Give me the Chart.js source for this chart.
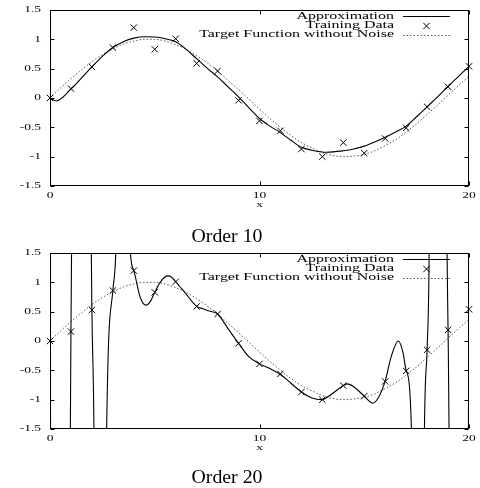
<!DOCTYPE html>
<html><head><meta charset="utf-8">
<script src="https://cdn.jsdelivr.net/npm/chart.js@4/dist/chart.umd.min.js"></script>
<style>
html,body{margin:0;padding:0;background:#fff;width:480px;height:488px;overflow:hidden;}
.wrap{position:absolute;left:0;width:480px;height:244px;}
</style></head><body>
<div class="wrap" style="top:0"><canvas id="c1" width="480" height="244"></canvas></div>
<div class="wrap" style="top:244px"><canvas id="c2" width="480" height="244"></canvas></div>
<script>
// ---- data ----
const trainX = [0,1,2,3,4,5,6,7,8,9,10,11,12,13,14,15,16,17,18,19,20];
const trainY = [0.0,0.16,0.53,0.86,1.2,0.83,1.01,0.59,0.46,-0.04,-0.39,-0.56,-0.87,-1.0,-0.76,-0.94,-0.69,-0.51,-0.15,0.19,0.54];

const targetX = [0,0.5,1,1.5,2,2.5,3,3.5,4,4.5,5,5.5,6,6.5,7,7.5,8,8.5,9,9.5,10,10.5,11,11.5,12,12.5,13,13.5,14,14.5,15,15.5,16,16.5,17,17.5,18,18.5,19,19.5,20];
const targetY = [0,0.17,0.33,0.48,0.62,0.74,0.84,0.92,0.97,1.0,1.0,0.97,0.91,0.83,0.72,0.6,0.46,0.3,0.14,-0.02,-0.19,-0.35,-0.5,-0.64,-0.76,-0.85,-0.93,-0.98,-1.0,-0.99,-0.96,-0.9,-0.81,-0.71,-0.58,-0.44,-0.28,-0.12,0.05,0.21,0.37];

const order10X = [0,0.3,1,1.5,2,2.5,3,3.5,4,4.5,5,5.5,6,6.5,7,7.5,8,8.5,9,9.5,10,10.5,11,11.5,12,12.5,13.2,14,14.5,15,15.5,16,16.5,17,17.5,18,18.5,19,19.5,20];
const order10Y = [0,-0.05,0.15,0.34,0.53,0.71,0.86,0.96,1.02,1.045,1.04,1.01,0.96,0.83,0.67,0.51,0.36,0.19,0.02,-0.17,-0.35,-0.48,-0.59,-0.72,-0.84,-0.89,-0.925,-0.9,-0.87,-0.82,-0.75,-0.67,-0.58,-0.48,-0.32,-0.15,0.02,0.2,0.37,0.54];

const order20X = [0,0.03,0.5,0.97,1,1.03,1.5,1.97,2,2.1,2.4,2.7,3,3.15,3.5,3.82,4,4.3,4.58,4.8,5,5.3,5.62,5.8,6,6.5,7,7.3,7.6,8,8.5,9,9.5,10,10.5,11,11.5,12,12.5,12.97,13.5,14,14.2,14.5,15,15.4,15.7,16,16.3,16.63,16.85,17,17.26,17.55,17.87,18,18.1,18.5,18.95,19,19.05,19.5,19.97,20];
const order20Y = [0,-1.6,-40,-1.6,0.17,1.6,40,1.6,0.53,-1.6,-20,-1.6,0.86,1.6,8,1.6,1.2,0.75,0.61,0.68,0.83,1.02,1.11,1.09,1.01,0.8,0.59,0.55,0.51,0.46,0.21,-0.04,-0.27,-0.39,-0.47,-0.57,-0.72,-0.87,-0.97,-1.0,-0.89,-0.76,-0.73,-0.78,-0.94,-1.06,-0.95,-0.68,-0.25,0.0,-0.2,-0.5,-1.6,-20,-1.6,-0.14,1.6,30,1.6,0.2,-1.6,-40,-1.6,0.53];

const xTicks = [0,10,20];
const yTicks = [-1.5,-1,-0.5,0,0.5,1,1.5];
const xTickLabels = ['0','10','20'];
const yTickLabels = ['-1.5','-1','-0.5','0','0.5','1','1.5'];
const legendLabels = ['Approximation','Training Data','Target Function without Noise'];
const xTitle = 'x';
const chartTitles = ['Order 10','Order 20'];

// ---- helpers ----
const zip = (xs, ys) => xs.map((x, i) => ({x: x, y: ys[i]}));
function sText(ctx, txt, x, y, align, font, sx, baseline) {
  ctx.save();
  ctx.font = font; ctx.textAlign = align; ctx.textBaseline = baseline || 'middle';
  ctx.fillStyle = '#000';
  ctx.translate(x, y); ctx.scale(sx, 1);
  ctx.fillText(txt, 0, 0);
  ctx.restore();
}

function decoPlugin(title, titleBase) {
  return {
    id: 'deco',
    afterDraw(chart) {
      const ctx = chart.ctx, a = chart.chartArea;
      const xs = chart.scales.x, ys = chart.scales.y;
      ctx.save();
      ctx.strokeStyle = '#000'; ctx.lineWidth = 1; ctx.setLineDash([]);
      const L = Math.round(a.left) + 0.5, R = Math.round(a.right) - 0.5;
      const T = Math.round(a.top) + 0.5, B = Math.round(a.bottom) - 0.5;
      ctx.strokeRect(L, T, R - L, B - T);
      ctx.beginPath();
      ys.ticks.forEach(t => {
        const p = Math.round(ys.getPixelForValue(t.value)) + 0.5;
        ctx.moveTo(L, p); ctx.lineTo(L + 4, p);
        ctx.moveTo(R, p); ctx.lineTo(R - 4, p);
      });
      xs.ticks.forEach(t => {
        const p = Math.round(xs.getPixelForValue(t.value)) + 0.5;
        ctx.moveTo(p, B); ctx.lineTo(p, B - 4);
        ctx.moveTo(p, T); ctx.lineTo(p, T + 4);
      });
      ctx.stroke();
      // tick labels
      const tf = '9px "Liberation Serif"';
      ys.ticks.forEach((t, i) => {
        sText(ctx, yTickLabels[i], 41, ys.getPixelForValue(t.value), 'right', tf, 1.5);
      });
      xs.ticks.forEach((t, i) => {
        sText(ctx, xTickLabels[i], xs.getPixelForValue(t.value), a.bottom + 9.5, 'center', tf, 1.5);
      });
      sText(ctx, xTitle, (a.left + a.right) / 2, a.bottom + 19, 'center', tf, 1.5);
      // legend
      const lf = '11px "Liberation Serif"';
      const rows = [a.top + 6, a.top + 15.5, a.top + 24.5];
      legendLabels.forEach((lab, i) => sText(ctx, lab, 394, rows[i], 'right', lf, 1.45));
      ctx.beginPath();
      ctx.moveTo(403, Math.round(rows[0]) + 0.5); ctx.lineTo(450, Math.round(rows[0]) + 0.5);
      ctx.stroke();
      const mx = 426.5, my = rows[1] + 0.5, r = 3.2;
      ctx.beginPath();
      ctx.moveTo(mx - r, my - r); ctx.lineTo(mx + r, my + r);
      ctx.moveTo(mx - r, my + r); ctx.lineTo(mx + r, my - r);
      ctx.stroke();
      ctx.strokeStyle = '#555'; ctx.setLineDash([1.5, 2]);
      ctx.beginPath();
      ctx.moveTo(403, Math.round(rows[2]) + 0.5); ctx.lineTo(450, Math.round(rows[2]) + 0.5);
      ctx.stroke();
      ctx.restore();
      // chart title below
      sText(ctx, title, 227, titleBase, 'center', '18px "Liberation Serif"', 1.1, 'alphabetic');
    }
  };
}

function build(id, apX, apY, title, top, bottom, titleBase) {
  return new Chart(document.getElementById(id), {
    type: 'scatter',
    data: { datasets: [
      { label: legendLabels[0], data: zip(apX, apY), showLine: true, borderColor: '#000', borderWidth: 1.1,
        pointRadius: 0, cubicInterpolationMode: 'monotone', fill: false, order: 1 },
      { label: legendLabels[1], data: zip(trainX, trainY), showLine: false, pointStyle: 'crossRot',
        pointRadius: 4.5, borderColor: '#000', backgroundColor: '#000', borderWidth: 1, clip: false, order: 0 },
      { label: legendLabels[2], data: zip(targetX, targetY), showLine: true, borderColor: '#555', borderWidth: 1,
        borderDash: [1.5, 2], pointRadius: 0, cubicInterpolationMode: 'monotone', fill: false, order: 2 }
    ]},
    options: {
      responsive: false, animation: false, devicePixelRatio: 1, events: [],
      layout: { padding: { left: 50, right: 11, top: top, bottom: 244 - bottom } },
      plugins: { legend: { display: false }, tooltip: { enabled: false }, title: { display: false } },
      scales: {
        x: { type: 'linear', min: 0, max: 20, display: false,
             afterBuildTicks: s => { s.ticks = xTicks.map(v => ({value: v})); } },
        y: { type: 'linear', min: -1.5, max: 1.5, display: false,
             afterBuildTicks: s => { s.ticks = yTicks.map(v => ({value: v})); } }
      }
    },
    plugins: [decoPlugin(title, titleBase)]
  });
}

build('c1', order10X, order10Y, chartTitles[0], 10, 186, 242);
build('c2', order20X, order20Y, chartTitles[1], 9, 185, 238.5);
</script>
</body></html>
